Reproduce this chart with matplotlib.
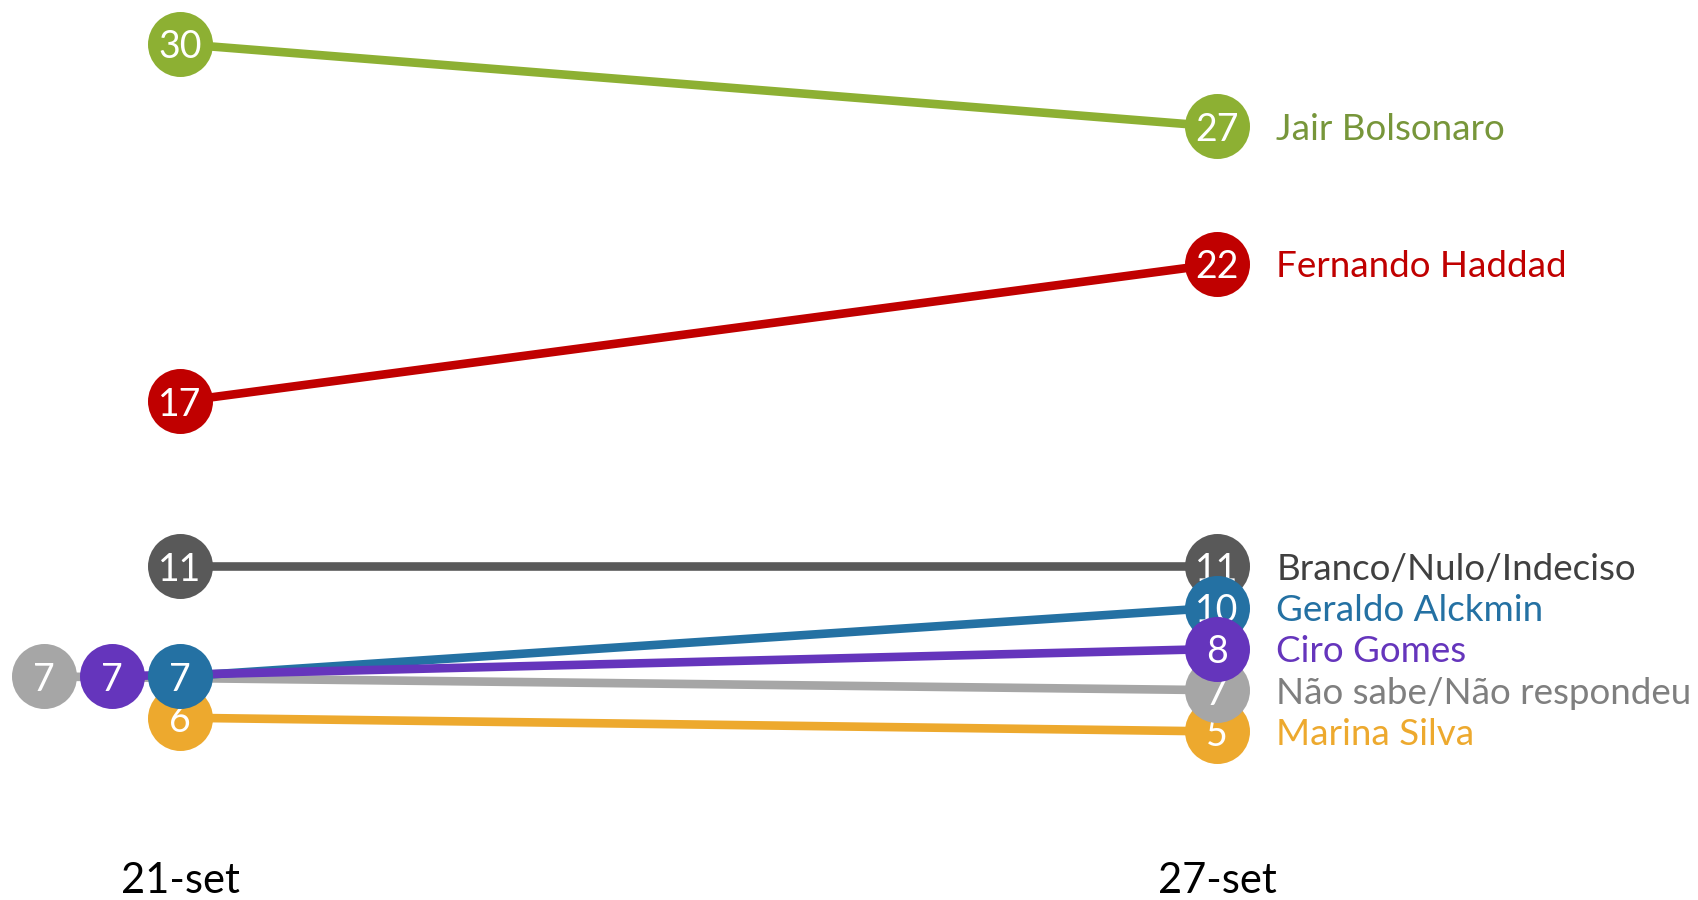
import matplotlib
matplotlib.use("Agg")
import matplotlib.pyplot as plt
import matplotlib.transforms as mtransforms

# ---- data ----
dates = ["21-set", "27-set"]
candidates = ["Jair Bolsonaro", "Fernando Haddad", "Branco/Nulo/Indeciso",
              "Geraldo Alckmin", "Ciro Gomes", "Não sabe/Não respondeu", "Marina Silva"]
sep21 = [30, 17, 11, 7, 7, 7, 6]
sep27 = [27, 22, 11, 10, 8, 7, 5]

marker_colors = ["#8DB033", "#C00000", "#595959", "#2471A3", "#6535BC", "#A6A6A6", "#EDA92E"]
text_colors = ["#77963A", "#C00000", "#404040", "#2471A3", "#6535BC", "#7F7F7F", "#EDA92E"]
# drawing order (bottom -> top)
draw_order = ["Marina Silva", "Não sabe/Não respondeu", "Branco/Nulo/Indeciso",
              "Geraldo Alckmin", "Ciro Gomes", "Fernando Haddad", "Jair Bolsonaro"]

FONT = "Lato"
W, H, DPI = 16.98, 9.0, 100
MIN_GAP = 1.5          # minimal vertical separation of labels (data units)
MARKER_PX = 65         # marker diameter in pixels

fig = plt.figure(figsize=(W, H), dpi=DPI)
ax = fig.add_axes([0, 0, 1, 1])
ax.set_xlim(-0.1736, 1.4638)
ax.set_ylim(-1.13, 31.6)
ax.axis("off")

px_per_unit_x = (W * DPI) / (1.4638 + 0.1736)


def repel(values):
    """Nudge y positions downward so distinct values keep MIN_GAP apart; ties share y."""
    order = sorted(range(len(values)), key=lambda i: -values[i])
    ys = [None] * len(values)
    prev_val, prev_y = None, None
    for i in order:
        v = values[i]
        if prev_val is not None and v == prev_val:
            ys[i] = prev_y
            continue
        y = v if prev_y is None else min(v, prev_y - MIN_GAP)
        ys[i] = y
        prev_val, prev_y = v, y
    return ys


def dodge(values):
    """Shift tied values leftwards, side by side."""
    step = (MARKER_PX + 3) / px_per_unit_x
    xs = [0.0] * len(values)
    seen = {}
    for i, v in enumerate(values):
        k = seen.get(v, 0)
        xs[i] = -k * step
        seen[v] = k + 1
    return xs


y21 = repel(sep21)
y27 = repel(sep27)
x21 = dodge(sep21)
x27 = [1.0 + d for d in dodge(sep27)]

ms = MARKER_PX * 72 / DPI
for rank, name in enumerate(draw_order):
    i = candidates.index(name)
    z = 3 + rank * 2
    ax.plot([x21[i], x27[i]], [y21[i], y27[i]], color=marker_colors[i],
            lw=6.2, solid_capstyle="butt", zorder=1)
    for xx, yy, val in ((x21[i], y21[i], sep21[i]), (x27[i], y27[i], sep27[i])):
        ax.plot([xx], [yy], "o", ms=ms, color=marker_colors[i], mec="none", zorder=z)
        ax.text(xx, yy, str(val), ha="center", va="center_baseline", color="white",
                fontsize=27, family=FONT, zorder=z + 1)
    ax.text(x27[i] + 0.057, y27[i], name, ha="left", va="center_baseline",
            color=text_colors[i], fontsize=26.5, family=FONT, zorder=30)

trans = mtransforms.blended_transform_factory(ax.transData, ax.transAxes)
for k, d in enumerate(dates):
    ax.text(float(k), 1 - 881 / 900, d, transform=trans, ha="center", va="center",
            fontsize=30, family=FONT, color="black")

fig.savefig("out.png", dpi=DPI, facecolor="white")
